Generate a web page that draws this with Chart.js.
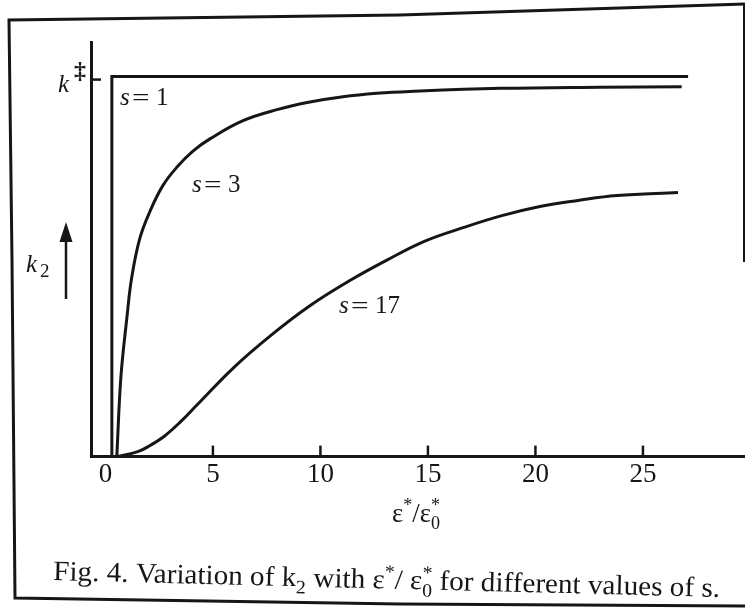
<!DOCTYPE html>
<html>
<head>
<meta charset="utf-8">
<script src="https://cdn.jsdelivr.net/npm/chart.js@4.4.0/dist/chart.umd.min.js"></script>
<style>
html, body { margin: 0; padding: 0; background: #fff; }
#wrap { width: 750px; height: 614px; }
</style>
</head>
<body>
<div id="wrap"><canvas id="myChart" width="750" height="614"></canvas></div>
<script>
// values: x = eps*/eps0*, y = k2 with k-double-dagger = 1
var xTicks = [0, 5, 10, 15, 20, 25];

var s1X = [0.3, 0.3, 27.1];
var s1Y = [0, 1, 1];

var s3X = [0.53, 0.72, 1.0, 1.22, 1.6, 2.07, 2.67, 3.33, 4.07, 4.86, 6.4, 7.98, 9.51, 11.05, 12.63, 14.16, 18.35, 23.0, 26.8];
var s3Y = [0, 0.209, 0.366, 0.47, 0.574, 0.645, 0.713, 0.762, 0.804, 0.836, 0.884, 0.913, 0.933, 0.947, 0.956, 0.961, 0.969, 0.972, 0.973];

var s17X = [0.53, 1.51, 2.1, 2.77, 3.5, 4.21, 5.98, 7.74, 9.51, 11.33, 13.09, 14.86, 16.67, 18.44, 20.21, 21.98, 23.79, 26.63];
var s17Y = [0, 0.013, 0.03, 0.055, 0.092, 0.133, 0.235, 0.321, 0.397, 0.462, 0.517, 0.567, 0.603, 0.634, 0.658, 0.674, 0.687, 0.695];

var ink = '#161616';
var serif = '"Liberation Serif", "Times New Roman", Times, serif';

function toPoints(xs, ys) {
    var pts = [];
    for (var i = 0; i < xs.length; i++) {
        pts.push({ x: xs[i], y: ys[i] });
    }
    return pts;
}

// text with sub/superscripts, squeezed or stretched to a target width
function drawRich(ctx, parts, x, y, size, width, angle) {
    var small = Math.round(size * 0.68);
    var total = 0;
    parts.forEach(function(p) {
        ctx.font = (p.sub || p.sup ? small : size) + 'px ' + serif;
        var w = ctx.measureText(p.t).width;
        if (p.both) {
            ctx.font = small + 'px ' + serif;
            w = Math.max(w, ctx.measureText(p.both).width);
        }
        p.w = w;
        total += w;
    });
    ctx.save();
    ctx.translate(x, y);
    ctx.rotate(angle || 0);
    if (width) ctx.scale(width / total, 1);
    ctx.fillStyle = ink;
    ctx.textBaseline = 'alphabetic';
    ctx.textAlign = 'left';
    var cx = 0;
    parts.forEach(function(p) {
        if (p.sub) {
            ctx.font = small + 'px ' + serif;
            ctx.fillText(p.t, cx, size * 0.25);
            if (p.both) ctx.fillText(p.both, cx, -size * 0.38);
        } else if (p.sup) {
            ctx.font = small + 'px ' + serif;
            ctx.fillText(p.t, cx, -size * 0.38);
        } else {
            ctx.font = size + 'px ' + serif;
            ctx.fillText(p.t, cx, 0);
        }
        cx += p.w;
    });
    ctx.restore();
}

function drawSLabel(ctx, x, y, num) {
    ctx.fillStyle = ink;
    ctx.textBaseline = 'alphabetic';
    ctx.textAlign = 'left';
    ctx.font = 'italic 25px ' + serif;
    ctx.fillText('s', x, y);
    ctx.save();
    ctx.translate(x + 12, y);
    ctx.scale(1.3, 1);
    ctx.font = '24px ' + serif;
    ctx.fillText('=', 0, 0);
    ctx.restore();
    ctx.font = '25px ' + serif;
    ctx.fillText(num, x + 36, y);
}

var decorations = {
    id: 'decorations',
    afterDraw: function(chart) {
        var ctx = chart.ctx;
        var xs = chart.scales.x;
        var ys = chart.scales.y;
        var bottom = chart.chartArea.bottom;
        var left = chart.chartArea.left;

        ctx.save();
        ctx.strokeStyle = ink;
        ctx.lineCap = 'butt';

        // outer frame of the figure
        ctx.lineWidth = 3;
        ctx.beginPath();
        ctx.moveTo(745, 4);
        ctx.lineTo(400, 15);
        ctx.lineTo(9, 20);
        ctx.lineTo(12, 260);
        ctx.lineTo(15, 598);
        ctx.lineTo(400, 604);
        ctx.lineTo(745, 606);
        ctx.stroke();
        ctx.lineWidth = 2;
        ctx.beginPath();
        ctx.moveTo(744, 4);
        ctx.lineTo(744, 262);
        ctx.stroke();

        // inward ticks on the x axis
        ctx.lineWidth = 2.5;
        xTicks.forEach(function(v) {
            if (v === 0) return;
            var px = xs.getPixelForValue(v);
            ctx.beginPath();
            ctx.moveTo(px, bottom);
            ctx.lineTo(px, bottom - 11);
            ctx.stroke();
        });

        // k double dagger tick
        var ky = ys.getPixelForValue(1);
        ctx.beginPath();
        ctx.moveTo(left, ky + 3);
        ctx.lineTo(left + 10, ky + 3);
        ctx.stroke();

        ctx.fillStyle = ink;
        ctx.textAlign = 'left';
        ctx.textBaseline = 'alphabetic';
        ctx.font = 'italic 25px ' + serif;
        ctx.fillText('k', 58, 92);
        ctx.font = 'bold 24px ' + serif;
        ctx.fillText('\u2021', 74, 78);

        // k2 with upward arrow
        ctx.font = 'italic 25px ' + serif;
        ctx.fillText('k', 26, 272);
        ctx.font = '19px ' + serif;
        ctx.fillText('2', 40, 277);
        ctx.lineWidth = 2.5;
        ctx.beginPath();
        ctx.moveTo(66, 299);
        ctx.lineTo(66, 238);
        ctx.stroke();
        ctx.beginPath();
        ctx.moveTo(66, 222);
        ctx.lineTo(72.5, 242);
        ctx.lineTo(59.5, 242);
        ctx.closePath();
        ctx.fill();

        // curve labels
        drawSLabel(ctx, 120, 105, '1');
        drawSLabel(ctx, 192, 192, '3');
        drawSLabel(ctx, 339, 313, '17');

        // axis title
        drawRich(ctx, [
            { t: '\u03b5' },
            { t: '*', sup: true },
            { t: '/' },
            { t: '\u03b5' },
            { t: '0', sub: true, both: '*' }
        ], 392, 522, 28, 48, 0);

        // caption
        drawRich(ctx, [
            { t: 'Fig. 4. Variation of k' },
            { t: '2', sub: true },
            { t: ' with \u03b5' },
            { t: '*', sup: true },
            { t: '/ \u03b5' },
            { t: '0', sub: true, both: '*' },
            { t: ' for different values of s.' }
        ], 53, 580, 28, 667, 0.0255);

        ctx.restore();
    }
};

var lineStyle = {
    borderColor: ink,
    borderWidth: 3,
    pointRadius: 0,
    fill: false
};

var ctx = document.getElementById('myChart').getContext('2d');
var myChart = new Chart(ctx, {
    type: 'line',
    data: {
        datasets: [
            Object.assign({ label: 's=1', data: toPoints(s1X, s1Y), tension: 0 }, lineStyle),
            Object.assign({ label: 's=3', data: toPoints(s3X, s3Y), tension: 0.4 }, lineStyle),
            Object.assign({ label: 's=17', data: toPoints(s17X, s17Y), tension: 0.4 }, lineStyle)
        ]
    },
    options: {
        responsive: false,
        animation: false,
        layout: {
            padding: { left: 91, right: 6, top: 42, bottom: 121 }
        },
        plugins: {
            legend: { display: false },
            tooltip: { enabled: false }
        },
        scales: {
            x: {
                type: 'linear',
                min: -0.67,
                max: 29.7,
                afterBuildTicks: function(scale) {
                    scale.ticks = xTicks.map(function(v) { return { value: v }; });
                },
                grid: { display: false, drawTicks: false },
                border: { display: true, color: ink, width: 3 },
                ticks: {
                    padding: 2,
                    color: ink,
                    maxRotation: 0,
                    autoSkip: false,
                    font: { family: serif, size: 27 }
                }
            },
            y: {
                type: 'linear',
                min: 0,
                max: 1.091,
                grid: { display: false, drawTicks: false },
                border: { display: true, color: ink, width: 3 },
                ticks: { display: false }
            }
        }
    },
    plugins: [decorations]
});
</script>
</body>
</html>
